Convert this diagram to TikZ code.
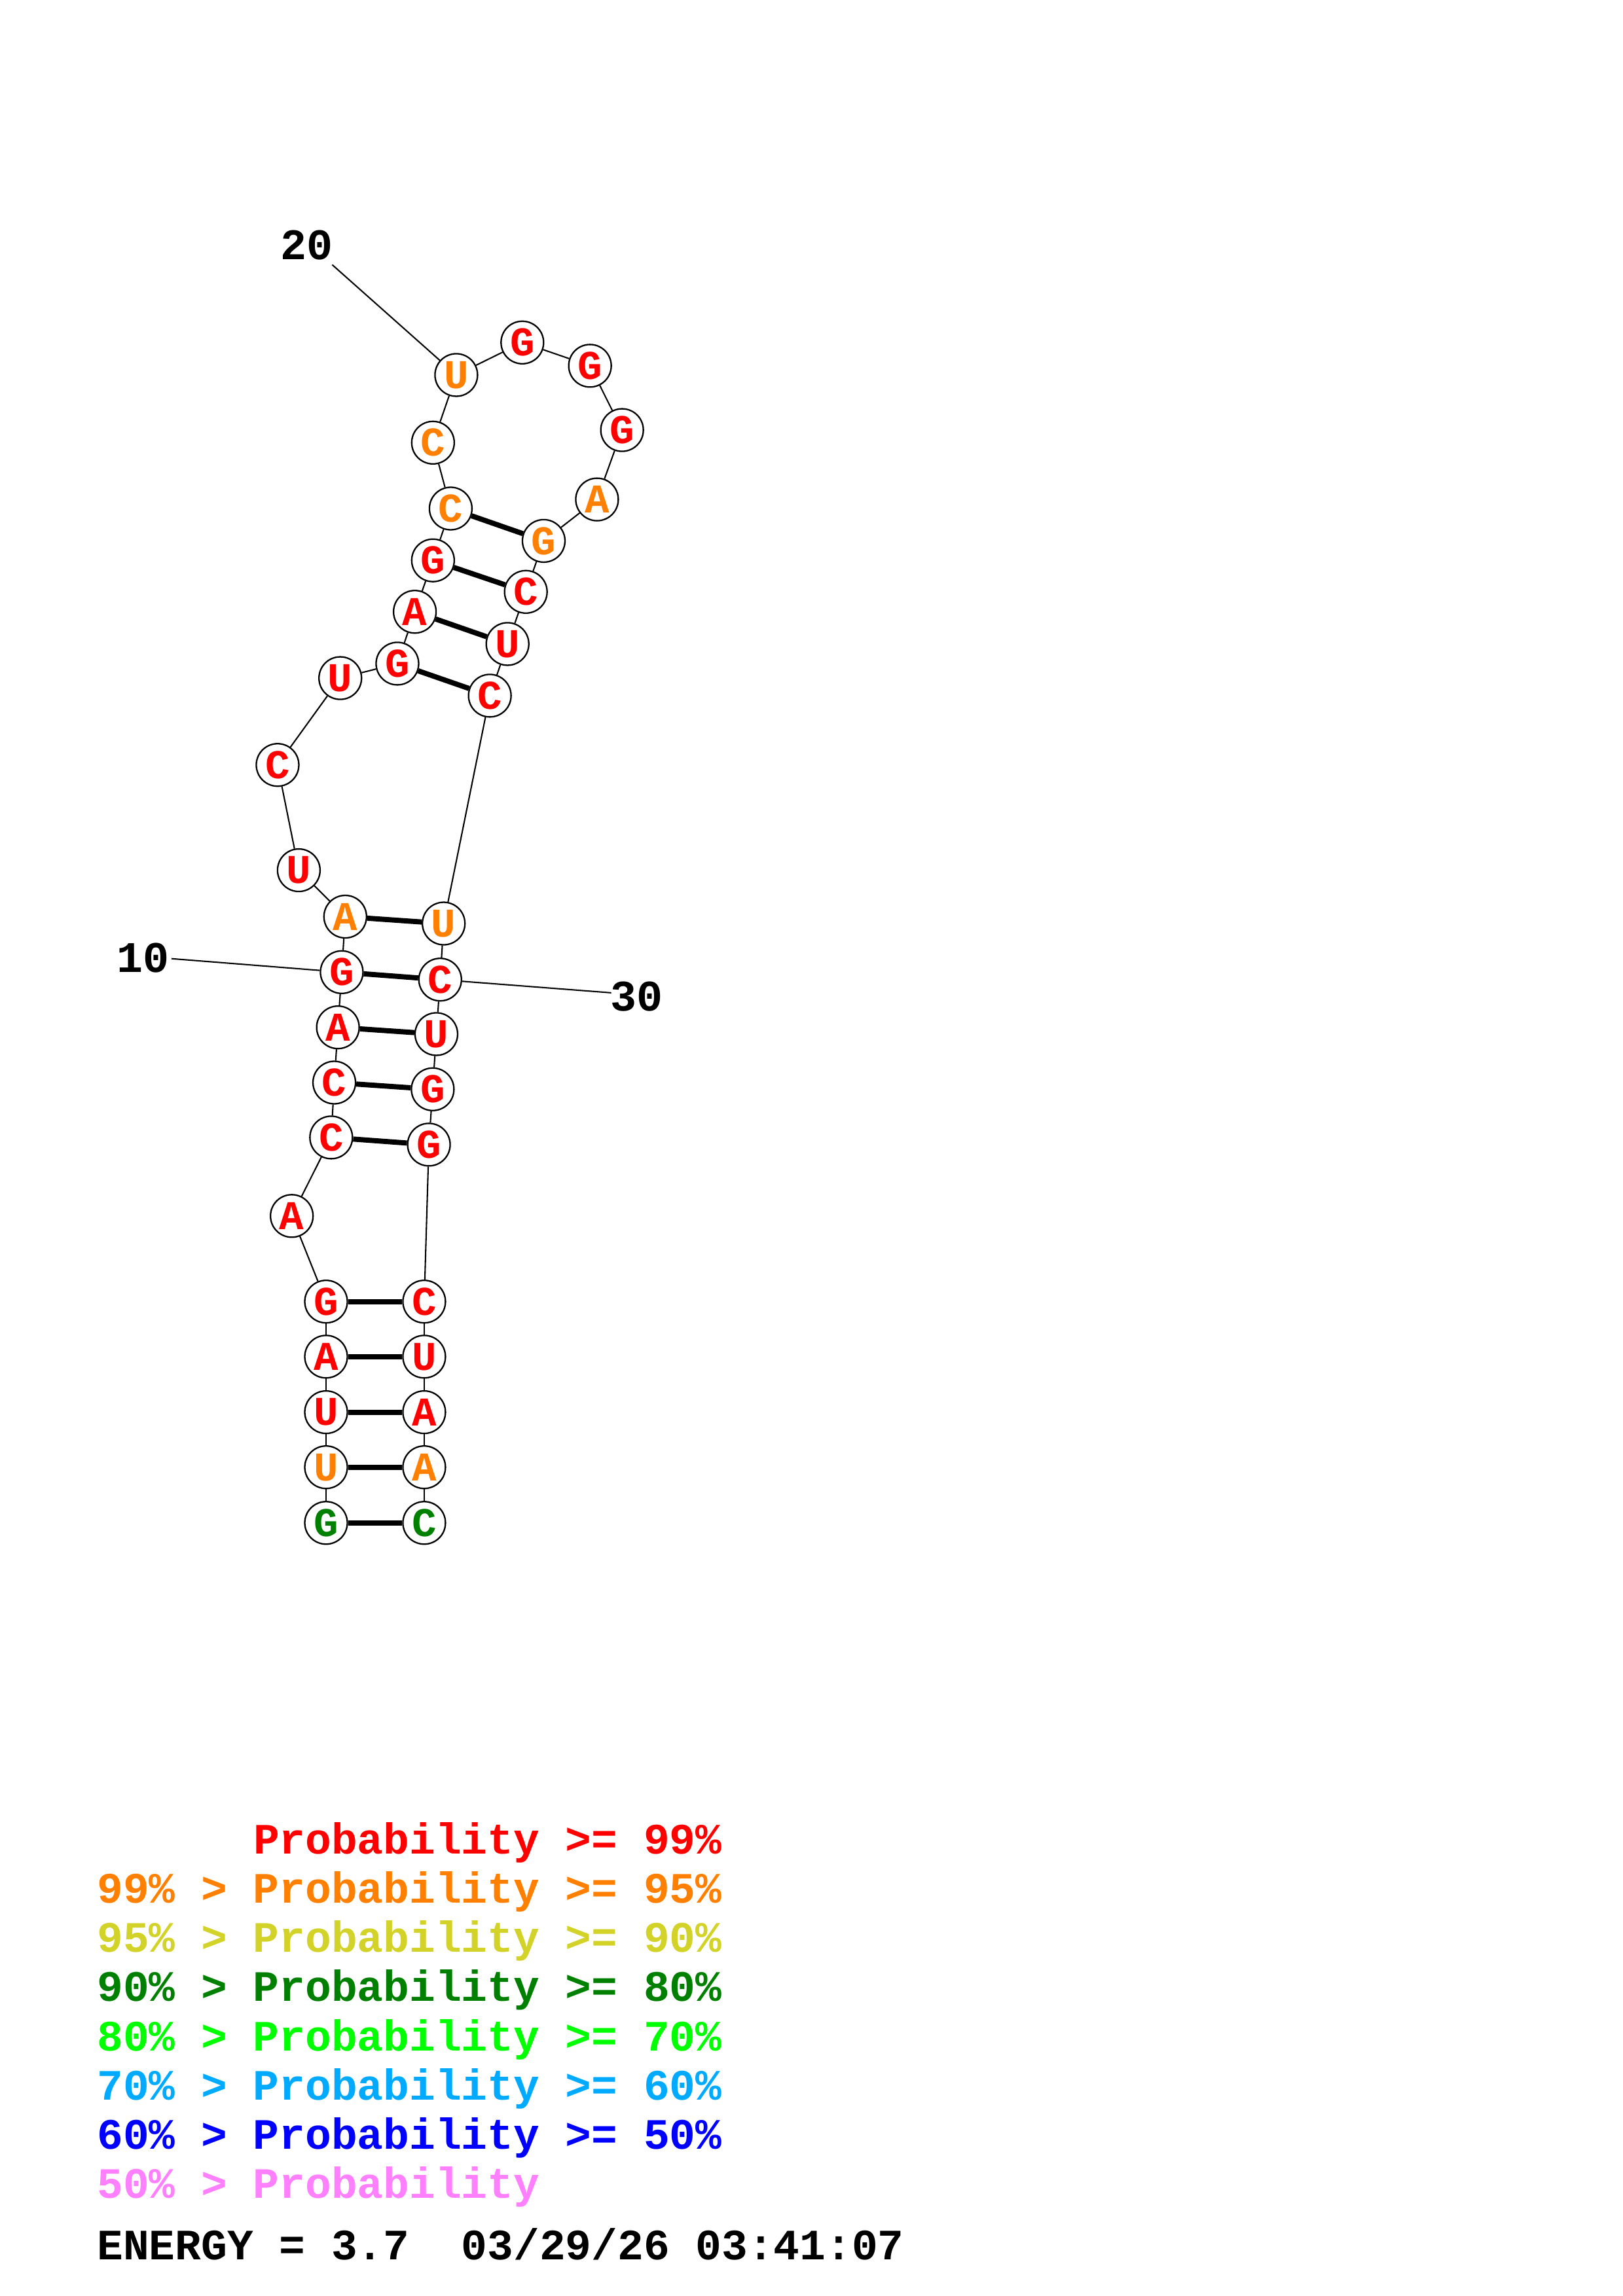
\documentclass[tikz,border=0pt]{standalone}
\usepackage{fontspec}
\usepackage{tikz}
\usepackage{xcolor}
\newfontfamily\ntfont{Liberation Mono}
\definecolor{ntorange}{RGB}{255,128,0}
\definecolor{ntgreen}{RGB}{0,128,0}
\definecolor{keyyellow}{RGB}{210,210,40}
\definecolor{keylime}{RGB}{0,255,0}
\definecolor{keysky}{RGB}{0,170,255}
\definecolor{keyblue}{RGB}{0,0,255}
\definecolor{keypink}{RGB}{255,128,255}

\begin{document}
\begin{tikzpicture}[x=0.537pt, y=-0.537pt,
    nt/.style={circle, draw, line width=0.55pt, fill=white, inner sep=0pt,
        minimum size=15.6pt, text=red, font=\ntfont\bfseries\fontsize{15}{15}\selectfont},
    hi/.style={text=ntorange},
    ok/.style={text=ntgreen},
    bb/.style={line width=0.5pt},
    bp/.style={line width=1.9pt},
    num/.style={font=\ntfont\bfseries\fontsize{16}{16}\selectfont},
    key/.style={anchor=base west, inner sep=0pt, font=\ntfont\bfseries\fontsize{15.9}{16}\selectfont}]

    \useasboundingbox (0,0) rectangle (1108,1568);

    % 5' strand
    \node[nt, ok] (1) at (222.6,1040) {G};
    \node[nt, hi] (2) at (222.6,1002) {U};
    \node[nt] (3) at (222.6,964.4) {U};
    \node[nt] (4) at (222.6,926.5) {A};
    \node[nt] (5) at (222.6,888.9) {G};
    \node[nt] (6) at (199.2,830.4) {A};
    \node[nt] (7) at (226.1,776.8) {C};
    \node[nt] (8) at (228.2,739.3) {C};
    \node[nt] (9) at (230.7,701.6) {A};
    \node[nt] (10) at (233.3,663.9) {G};
    \node[nt, hi] (11) at (235.7,626) {A};
    \node[nt] (12) at (204,594.3) {U};
    \node[nt] (13) at (189.5,522.4) {C};
    \node[nt] (14) at (232.3,463.1) {U};
    \node[nt] (15) at (271.3,453.2) {G};
    \node[nt] (16) at (283.2,417.8) {A};
    \node[nt] (17) at (295.6,382.7) {G};
    \node[nt, hi] (18) at (307.7,347.3) {C};
    \node[nt, hi] (19) at (295.6,302.3) {C};
    % hairpin loop
    \node[nt, hi] (20) at (311.5,256.1) {U};
    \node[nt] (21) at (356.6,233.9) {G};
    \node[nt] (22) at (402.8,249.8) {G};
    \node[nt] (23) at (424.7,293.7) {G};
    \node[nt, hi] (24) at (407.6,341.1) {A};
    % 3' strand
    \node[nt, hi] (25) at (371.2,369.4) {G};
    \node[nt] (26) at (359,404.2) {C};
    \node[nt] (27) at (346.5,439.8) {U};
    \node[nt] (28) at (334.4,475.1) {C};
    \node[nt, hi] (29) at (302.9,630.7) {U};
    \node[nt] (30) at (300.5,669) {C};
    \node[nt] (31) at (297.9,706.2) {U};
    \node[nt] (32) at (295.4,743.9) {G};
    \node[nt] (33) at (292.8,781.7) {G};
    \node[nt] (34) at (289.6,888.9) {C};
    \node[nt] (35) at (289.6,926.5) {U};
    \node[nt] (36) at (289.6,964.4) {A};
    \node[nt, hi] (37) at (289.6,1002) {A};
    \node[nt, ok] (38) at (289.6,1040) {C};

    % position ticks
    \coordinate (t10) at (117.1,654.7);
    \coordinate (t20) at (226.8,180.8);
    \coordinate (t30) at (417.3,678);
    \node[num] (l10) at (97.8,654.2) {10};
    \node[num] (l20) at (209.5,167.2) {20};
    \node[num] (l30) at (434.5,680.6) {30};

    \path[bb]
        (1) edge (2)  (2) edge (3)  (3) edge (4)  (4) edge (5)
        (5) edge (6)  (6) edge (7)  (7) edge (8)  (8) edge (9)
        (9) edge (10)  (10) edge (11)  (11) edge (12)  (12) edge (13)
        (13) edge (14)  (14) edge (15)  (15) edge (16)  (16) edge (17)
        (17) edge (18)  (18) edge (19)  (19) edge (20)  (20) edge (21)
        (21) edge (22)  (22) edge (23)  (23) edge (24)  (24) edge (25)
        (25) edge (26)  (26) edge (27)  (27) edge (28)  (28) edge (29)
        (29) edge (30)  (30) edge (31)  (31) edge (32)  (32) edge (33)
        (33) edge (34)  (34) edge (35)  (35) edge (36)  (36) edge (37)
        (37) edge (38)
        (t10) edge (10)
        (t20) edge (20)
        (t30) edge (30);

    \path[bp]
        (1) edge (38)  (2) edge (37)  (3) edge (36)  (4) edge (35)
        (5) edge (34)  (7) edge (33)  (8) edge (32)  (9) edge (31)
        (10) edge (30)  (11) edge (29)  (15) edge (28)  (16) edge (27)
        (17) edge (26)  (18) edge (25);

    % key
    \node[key, text=red] (k1) at (66,1266) {\hphantom{99\% > }Probability >= 99\%};
    \node[key, text=ntorange] (k2) at (66,1299.6) {99\% > Probability >= 95\%};
    \node[key, text=keyyellow] (k3) at (66,1333.2) {95\% > Probability >= 90\%};
    \node[key, text=ntgreen] (k4) at (66,1366.8) {90\% > Probability >= 80\%};
    \node[key, text=keylime] (k5) at (66,1400.4) {80\% > Probability >= 70\%};
    \node[key, text=keysky] (k6) at (66,1434) {70\% > Probability >= 60\%};
    \node[key, text=keyblue] (k7) at (66,1467.6) {60\% > Probability >= 50\%};
    \node[key, text=keypink] (k8) at (66,1501.2) {50\% > Probability};
    \node[key] (energy) at (66,1543) {ENERGY = 3.7\ \ 03/29/26 03:41:07};

\end{tikzpicture}
\end{document}
